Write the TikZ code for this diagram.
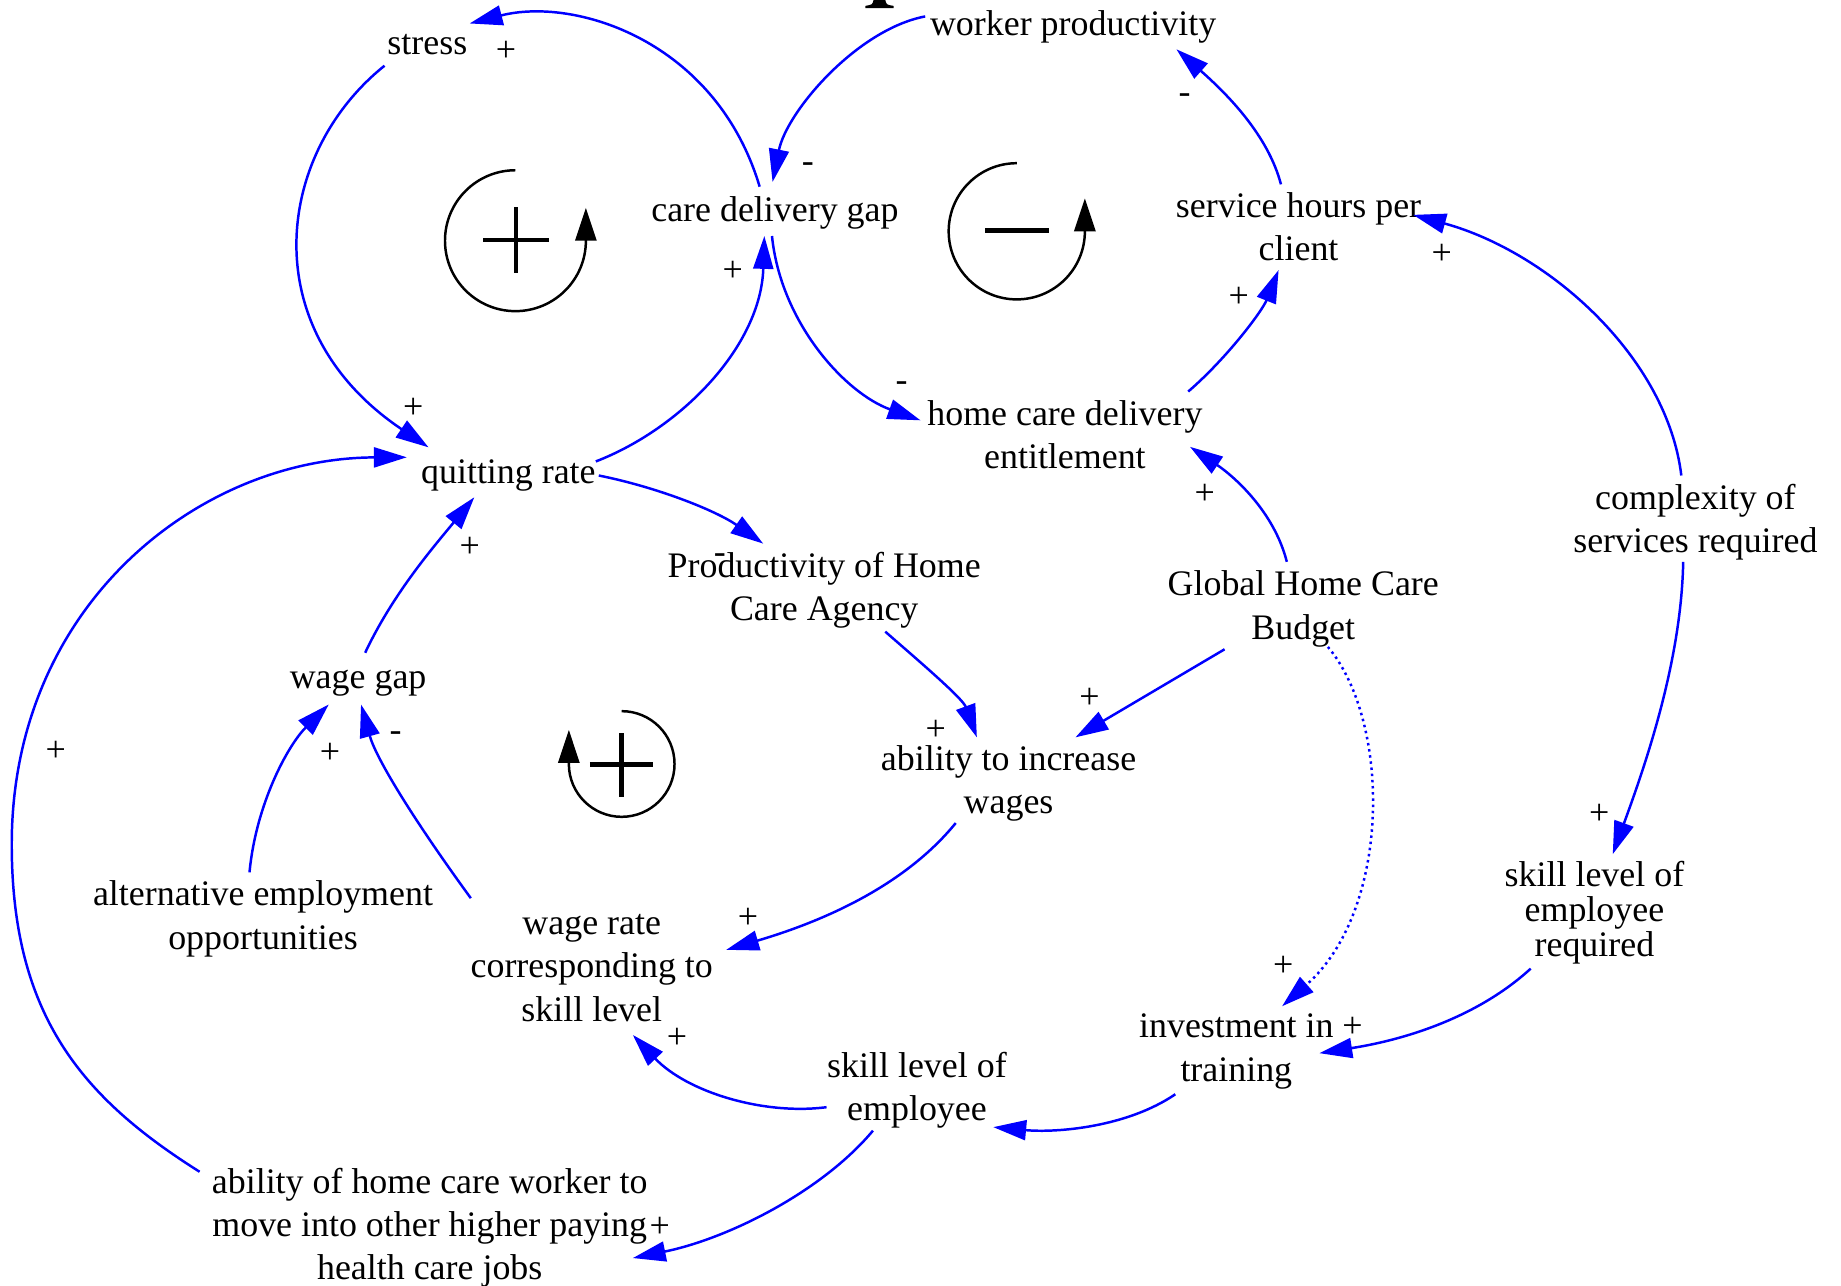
\documentclass[tikz,border=0pt]{standalone}
\usepackage{fontspec}
\setmainfont{Liberation Serif}
\usetikzlibrary{arrows.meta}
\begin{document}
\begin{tikzpicture}[x=0.1mm,y=0.1mm,
    link/.style={draw=blue,line width=0.6pt,-{Triangle[length=2.8mm,width=1.7mm]}},
    loopsign/.style={draw=black,line width=0.6pt,-{Triangle[length=2.8mm,width=1.8mm]}}]
  \useasboundingbox (0,0) rectangle (1568,1095);
  % cut-off title glyph at the top
  \fill (737,1088) -- (761,1088) -- (761,1090) .. controls (755,1091) .. (754,1095)
    -- (744,1095) .. controls (743,1091) .. (737,1090) -- cycle;
  \begin{scope}[every node/.style={align=center,inner sep=0pt,font=\fontsize{8.7}{10.5}\selectfont}]
    \node (stress) at (364,1057) {stress};
    \node (wprod) at (914,1072) {worker productivity};
    \node (gap) at (660,914) {care delivery gap};
    \node (hours) at (1106,902) {service hours per\\client};
    \node (entitle) at (907,725) {home care delivery\\entitlement};
    \node (quit) at (433,690) {quitting rate};
    \node (agency) at (702,592.5) {Productivity of Home\\Care Agency};
    \node (budget) at (1110,576.5) {Global Home Care\\Budget};
    \node (complex) at (1444,650.5) {complexity of\\services required};
    \node (wgap) at (305,513) {wage gap};
    \node (abilw) at (859,427.5) {ability to increase\\wages};
    \node (altemp) at (224,312.5) {alternative employment\\opportunities};
    \node (wrate) at (504,270.5) {wage rate\\corresponding to\\skill level};
    \node[font=\fontsize{8.7}{8.5}\selectfont] (skreq) at (1358,317.5) {skill level of\\employee\\required};
    \node (invest) at (1053,199.5) {investment in\\training};
    \node (skill) at (781,166.5) {skill level of\\employee};
    \node (abilh) at (366,49.5) {ability of home care worker to\\move into other higher paying\\health care jobs};
  \end{scope}
  % polarities
  \begin{scope}[every node/.style={inner sep=0pt,font=\fontsize{8.7}{10.5}\selectfont}]
    \node (s1) at (431,1051) {+};
    \node (s2) at (688,952) {-};
    \node (s3) at (624,864) {+};
    \node (s4) at (768,766) {-};
    \node (s5) at (1009,1011) {-};
    \node (s6) at (1055,842) {+};
    \node (s7) at (1228,878) {+};
    \node (s8) at (1026,674) {+};
    \node (s9) at (352,747) {+};
    \node (s10) at (400,629) {+};
    \node (s11) at (613,619) {-};
    \node (s12) at (797,473) {+};
    \node (s13) at (928,500) {+};
    \node (s14) at (47.5,455) {+};
    \node (s15) at (281,453) {+};
    \node (s16) at (337,468) {-};
    \node (s17) at (637,313) {+};
    \node (s18) at (576.5,211) {+};
    \node (s19) at (1362,401) {+};
    \node (s20) at (1093,272) {+};
    \node (s21) at (1152,220) {+};
    \node (s22) at (562,49.5) {+};
  \end{scope}
  % links
  \draw[link] ([shift={(-13,22)}]gap.center) .. controls (610,1060) and (490,1098) .. ([shift={(36,18)}]stress.center);
  \draw[link] ([shift={(-36.5,-18)}]stress.center) .. controls (235,965) and (215,815) .. ([shift={(-68,24)}]quit.center);
  \draw[link] ([shift={(74.5,12)}]quit.center) .. controls (580,730) and (648,800) .. ([shift={(-9,-20)}]gap.center);
  \draw[link] ([shift={(-126,9)}]wprod.center) .. controls (730,1070) and (670,1000) .. ([shift={(-2,26)}]gap.center);
  \draw[link] ([shift={(-2.5,-20)}]gap.center) .. controls (665,820) and (720,760) .. ([shift={(-123,12)}]entitle.center);
  \draw[link] ([shift={(-15,36)}]hours.center) .. controls (1080,980) and (1045,1015) .. ([shift={(88,-19)}]wprod.center);
  \draw[link] ([shift={(105,36.5)}]entitle.center) .. controls (1045,790) and (1075,830) .. ([shift={(-17,-37)}]hours.center);
  \draw[link] ([shift={(-12,39.5)}]complex.center) .. controls (1420,790) and (1320,880) .. ([shift={(97.6,10)}]hours.center);
  \draw[link] ([shift={(-14,40)}]budget.center) .. controls (1085,660) and (1050,690) .. ([shift={(106.6,-10.6)}]entitle.center);
  \draw[link] ([shift={(-10.4,-34)}]complex.center) .. controls (1432,530) and (1400,440) .. ([shift={(15.6,50)}]skreq.center);
  \draw[link] ([shift={(-54.3,-47.5)}]skreq.center) .. controls (1260,230) and (1200,210) .. ([shift={(70.7,-1.5)}]invest.center);
  \draw[link,dash pattern=on 0.6pt off 0.9pt] ([shift={(21,-32.5)}]budget.center) .. controls (1185,480) and (1185,320) .. ([shift={(39,38.5)}]invest.center);
  \draw[link] ([shift={(-67,-34.5)}]budget.center) -- ([shift={(57,39.5)}]abilw.center);
  \draw[link] ([shift={(52,-35.5)}]agency.center) .. controls (785,530) and (820,500) .. ([shift={(-27,39.5)}]abilw.center);
  \draw[link] ([shift={(77,0)}]quit.center) .. controls (560,680) and (610,660) .. ([shift={(-52,39.5)}]agency.center);
  \draw[link] ([shift={(-45,-33.5)}]abilw.center) .. controls (770,340) and (700,310) .. ([shift={(114.5,15.5)}]wrate.center);
  \draw[link] ([shift={(-103,59.5)}]wrate.center) .. controls (350,400) and (320,450) .. ([shift={(2.5,-18)}]wgap.center);
  \draw[link] ([shift={(-11.5,39.5)}]altemp.center) .. controls (218,410) and (245,460) .. ([shift={(-25,-18)}]wgap.center);
  \draw[link] ([shift={(6,26)}]wgap.center) .. controls (335,590) and (370,630) .. ([shift={(-29,-18.5)}]quit.center);
  \draw[link] ([shift={(-196,47.5)}]abilh.center) .. controls (70,160) and (10,230) .. (10,376)
    .. controls (10,580) and (170,705) .. ([shift={(-86.5,15.5)}]quit.center);
  \draw[link] ([shift={(-77,-14.5)}]skill.center) .. controls (650,145) and (585,165) .. ([shift={(35,-57)}]wrate.center);
  \draw[link] ([shift={(-37.5,-34.5)}]skill.center) .. controls (700,80) and (620,40) .. ([shift={(173,-26)}]abilh.center);
  \draw[link] ([shift={(-52,-36.5)}]invest.center) .. controls (960,135) and (900,130) .. ([shift={(65,-31.5)}]skill.center);
  % loop markers
  \draw[loopsign] (439,950) arc[start angle=90,end angle=360,radius=60] -- ++(0,28);
  \draw[line width=1.1pt] (411.5,890.5) -- (467.5,890.5) (439.5,862.5) -- (439.5,919);
  \draw[loopsign] (866,956) arc[start angle=90,end angle=360,radius=58] -- ++(0,28);
  \draw[line width=1.3pt] (839,898.5) -- (893.5,898.5);
  \draw[loopsign] (529.5,489.3) arc[start angle=90,end angle=-180,radius=45] -- ++(0,29);
  \draw[line width=1.1pt] (502.5,443.7) -- (556.5,443.7) (529.5,416.5) -- (529.5,471);
\end{tikzpicture}
\end{document}
